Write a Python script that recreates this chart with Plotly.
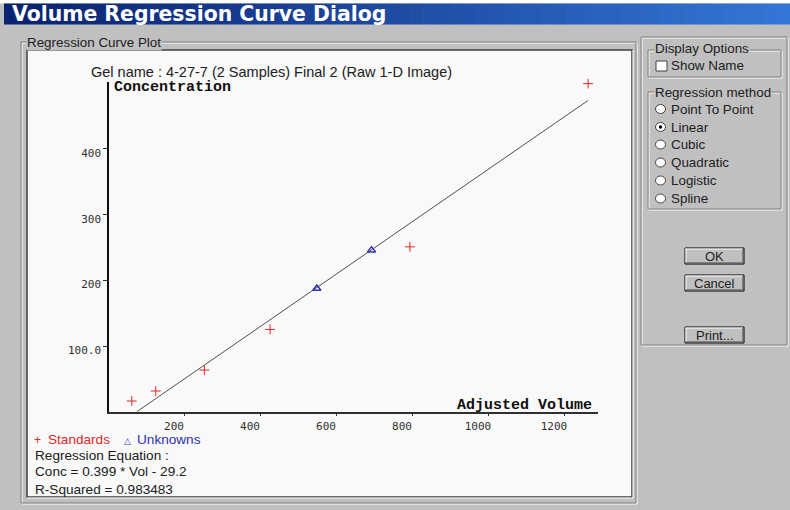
import plotly.graph_objects as go

# Standards (adjusted volume vs. known concentration)
std_volume = [60, 123, 251, 424, 792, 1261]
std_conc = [16.3, 31.5, 63.4, 125.3, 251, 499.5]

# Unknown samples placed on the regression line
unk_volume = [547, 691]
unk_conc = [187.7, 246]

# Linear regression result
slope = 0.399
intercept = -29.2
r_squared = "0.983483"

x_ticks = [200, 400, 600, 800, 1000, 1200]
x_tick_text = ["200", "400", "600", "800", "1000", "1200"]
y_ticks = [100, 200, 300, 400]
y_tick_text = ["100.0", "200", "300", "400"]

methods = ["Point To Point", "Linear", "Cubic", "Quadratic", "Logistic", "Spline"]
selected_method = "Linear"

W, H = 790, 510
GRAY = "#c0c0c0"
PANEL = "#f9f9f9"


def fx(p):
    return p / W


def fy(p):
    return 1 - p / H


shapes = []


def rect(x0, y0, x1, y1, fill="rgba(0,0,0,0)", line="rgba(0,0,0,0)", lw=0, layer="below"):
    shapes.append(dict(type="rect", xref="paper", yref="paper",
                       x0=fx(x0), x1=fx(x1), y0=fy(y1), y1=fy(y0),
                       fillcolor=fill, line=dict(color=line, width=lw), layer=layer))


def hline(x0, x1, y, color, lw=1):
    shapes.append(dict(type="line", xref="paper", yref="paper",
                       x0=fx(x0), x1=fx(x1), y0=fy(y), y1=fy(y),
                       line=dict(color=color, width=lw), layer="below"))


def vline(x, y0, y1, color, lw=1):
    shapes.append(dict(type="line", xref="paper", yref="paper",
                       x0=fx(x), x1=fx(x), y0=fy(y0), y1=fy(y1),
                       line=dict(color=color, width=lw), layer="below"))


def etched(x0, y0, x1, y1):
    rect(x0 + 1, y0 + 1, x1 + 1, y1 + 1, line="#ffffff", lw=1)
    rect(x0, y0, x1, y1, line="#808080", lw=1)


def button(x0, y0, x1, y1):
    rect(x0, y0, x1, y1, fill=GRAY, line="#000000", lw=1)
    hline(x0 + 0.5, x1 - 1, y0 + 1, "#ffffff")
    vline(x0 + 1, y0 + 0.5, y1 - 1, "#ffffff")
    hline(x0 + 1, x1 - 1, y1 - 1.5, "#808080")
    vline(x1 - 1.5, y0 + 1, y1 - 1, "#808080")


# white strip above the title bar
rect(0, 0, W, 3.5, fill="#ffffff")

# title bar gradient
c0 = (10, 34, 112)
c1 = (52, 118, 214)
n = 60
x_start, x_end = 4, W
for i in range(n):
    t = i / (n - 1)
    c = tuple(int(c0[k] + (c1[k] - c0[k]) * t) for k in range(3))
    xa = x_start + (x_end - x_start) * i / n
    xb = x_start + (x_end - x_start) * (i + 1) / n + 0.6
    rect(xa, 3.5, xb, 24.5, fill="rgb(%d,%d,%d)" % c)

# plot group box and sunken plot panel
etched(21, 42, 636, 503)
rect(27, 50, 632, 497, fill=PANEL, line="#404040", lw=1.5)
hline(27, 633, 498, "#ffffff")
vline(633, 50, 498, "#ffffff")

# right options area
etched(641, 37, 787, 345)
etched(648, 50, 781, 77)
etched(648, 92, 781, 209)

# checkbox
rect(656, 61, 667, 71, fill="#ffffff", line="#404040", lw=1)

# radio buttons
radio_y = [109, 127, 144.5, 162.5, 180.5, 198.5]
for name, yy in zip(methods, radio_y):
    shapes.append(dict(type="circle", xref="paper", yref="paper",
                       x0=fx(655.5), x1=fx(665.5), y0=fy(yy + 4.5), y1=fy(yy - 4.5),
                       fillcolor="#ffffff", line=dict(color="#404040", width=1), layer="below"))
    if name == selected_method:
        shapes.append(dict(type="circle", xref="paper", yref="paper",
                           x0=fx(658.8), x1=fx(662.2), y0=fy(yy + 1.7), y1=fy(yy - 1.7),
                           fillcolor="#000000", line=dict(color="#000000", width=0), layer="below"))

# buttons
button(685, 248, 744, 264)
button(685, 275, 744, 291)
button(685, 327, 744, 343)

annotations = []


def label(x, y, text, size=12.5, color="#000000", family="Liberation Sans", anchor="left",
          bg=None, bold=False):
    a = dict(xref="paper", yref="paper", x=fx(x), y=fy(y), text=text, showarrow=False,
             xanchor=anchor, yanchor="middle",
             font=dict(size=size, color=color, family=family,
                       weight="bold" if bold else "normal"))
    if bg:
        a["bgcolor"] = bg
    a["borderpad"] = 0
    annotations.append(a)


UI = 13.4
label(11, 14, "Volume Regression Curve Dialog", size=20.4, color="#ffffff",
      family="DejaVu Sans", bold=True)
label(26, 42, "Regression Curve Plot", size=UI, bg=GRAY, color="#202020")
label(654, 49, "Display Options", size=UI, bg=GRAY, color="#202020")
label(670, 66, "Show Name", size=UI, color="#202020")
label(654, 92, "Regression method", size=UI, bg=GRAY, color="#202020")
for name, yy in zip(methods, radio_y):
    label(670, yy, name, size=UI, color="#202020")
label(714.5, 256, "OK", size=13, anchor="center", color="#202020")
label(714.5, 283, "Cancel", size=13, anchor="center", color="#202020")
label(714.5, 335, "Print...", size=13, anchor="center", color="#202020")

label(90, 72, "Gel name : 4-27-7 (2 Samples) Final 2 (Raw 1-D Image)", size=14.5, color="#202020")
label(113, 87, "Concentration", size=15, family="Liberation Mono", bold=True, color="#101010")
label(593, 405, "Adjusted Volume", size=15, family="Liberation Mono", bold=True,
      color="#101010", anchor="right")

# legend and regression summary below the plot
TXT = 13.6
label(33, 440, "+", size=12, color="#e02828")
label(47, 439.5, "Standards", size=TXT, color="#e02828")
label(123, 441, "\u25b3", size=9, color="#3030b0")
label(136, 439.5, "Unknowns", size=TXT, color="#3030b0")
label(34, 455.5, "Regression Equation :", size=TXT, color="#202020")
label(34, 471.5, "Conc = %.3f * Vol - %.1f" % (slope, -intercept), size=TXT, color="#202020")
label(34, 489, "R-Squared = " + r_squared, size=TXT, color="#202020")

# regression line from its x-intercept to the largest standard
x_lo = -intercept / slope
x_hi = max(std_volume)
line_x = [x_lo, x_hi]
line_y = [slope * v + intercept for v in line_x]

fig = go.Figure()
fig.add_trace(go.Scatter(x=line_x, y=line_y, mode="lines",
                         line=dict(color="#505050", width=1), hoverinfo="skip"))
fig.add_trace(go.Scatter(x=std_volume, y=std_conc, mode="markers", name="Standards",
                         cliponaxis=False,
                         marker=dict(symbol="cross-thin", size=7,
                                     line=dict(color="#e02828", width=1))))
fig.add_trace(go.Scatter(x=unk_volume, y=unk_conc, mode="markers", name="Unknowns",
                         cliponaxis=False,
                         marker=dict(symbol="triangle-up-open", size=7, color="#3030b0",
                                     line=dict(color="#3030b0", width=1.5))))

tick_font = dict(family="DejaVu Sans Mono", size=11, color="#303030")
fig.update_layout(
    width=W, height=H, autosize=False,
    margin=dict(l=0, r=0, t=0, b=0),
    paper_bgcolor=GRAY,
    plot_bgcolor="rgba(0,0,0,0)",
    showlegend=False,
    shapes=shapes,
    annotations=annotations,
    xaxis=dict(domain=[fx(109), fx(598)], range=[0, 1287], autorange=False,
               showgrid=False, zeroline=False, showline=True, linecolor="#303030", linewidth=1.5,
               ticks="outside", ticklen=3, tickcolor="#303030",
               tickvals=x_ticks, ticktext=x_tick_text, ticklabelshift=-11,
               tickfont=tick_font),
    yaxis=dict(domain=[fy(411.7), fy(82)], range=[0, 502], autorange=False,
               showgrid=False, zeroline=False, showline=True, linecolor="#101010", linewidth=1.5,
               ticks="outside", ticklen=4, tickcolor="#303030",
               tickvals=y_ticks, ticktext=y_tick_text, ticklabelshift=4,
               tickfont=tick_font),
)

fig.write_html("out.html")
